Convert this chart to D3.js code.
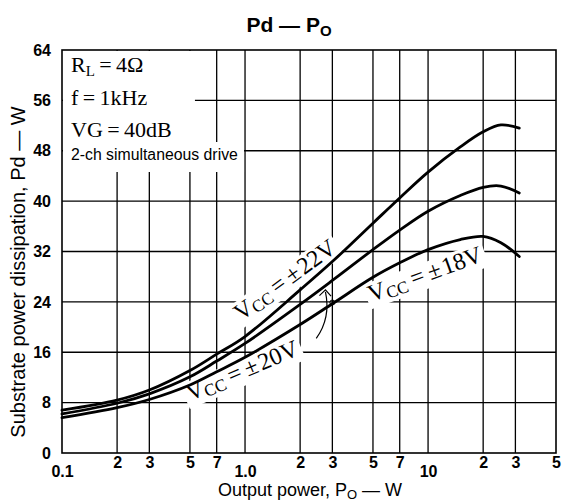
<!DOCTYPE html>
<html>
<head>
<meta charset="utf-8">
<script src="https://cdn.jsdelivr.net/npm/d3@7"></script>
<style>
body { margin: 0; background: #fff; }
svg { display: block; }
.tick text { font-family: "Liberation Sans", Arial, sans-serif; font-weight: bold; font-size: 16px; fill: #000; }
.serif { font-family: "Liberation Serif", "DejaVu Serif", serif; fill: #000; }
.sans { font-family: "Liberation Sans", Arial, sans-serif; fill: #000; }
</style>
</head>
<body>
<script>
//Global variables
const width = 563;
const height = 504;
const plotLeft = 62, plotRight = 556, plotTop = 50, plotBottom = 453;

//Data: output power (W) and dissipation (W) per supply voltage
const powerW = [0.1, 0.2, 0.3, 0.5, 0.7, 1, 2, 3, 5, 7, 10, 15, 20, 25, 31.5];
const pd22 = [6.8, 8.4, 10.0, 13.1, 15.7, 18.5, 25.9, 30.4, 36.5, 40.5, 44.6, 48.6, 51.0, 52.1, 51.6];
const pd20 = [6.2, 7.9, 9.4, 12.1, 14.6, 17.4, 23.6, 27.4, 32.3, 35.4, 38.4, 40.9, 42.2, 42.4, 41.3];
const pd18 = [5.6, 7.2, 8.5, 10.8, 12.9, 15.2, 20.4, 23.7, 27.9, 30.2, 32.3, 33.9, 34.4, 33.4, 31.2];

//Ticks and grid
const xGrid = [0.2, 0.3, 0.5, 0.7, 1, 2, 3, 5, 7, 10, 20, 30];
const xMinor = [0.2, 0.3, 0.5, 0.7, 2, 3, 5, 7, 20, 30, 50];
const xMajor = [0.1, 1, 10];
const xMajorText = ["0.1", "1.0", "10"];
const yTicks = [0, 8, 16, 24, 32, 40, 48, 56, 64];

//Scales
const xScale = d3.scaleLog()
    .domain([0.1, 50])
    .range([plotLeft, plotRight]);

const yScale = d3.scaleLinear()
    .domain([0, 64])
    .range([plotBottom, plotTop]);

//SVG element
const svg = d3.select("body")
    .append("svg")
    .attr("width", width)
    .attr("height", height);

//Grid
svg.append("g")
    .selectAll("line")
    .data(xGrid)
    .join("line")
    .attr("x1", d => xScale(d)).attr("x2", d => xScale(d))
    .attr("y1", plotTop).attr("y2", plotBottom)
    .attr("stroke", "#000").attr("stroke-width", 1.3);

svg.append("g")
    .selectAll("line")
    .data(yTicks.slice(1, -1))
    .join("line")
    .attr("x1", plotLeft).attr("x2", plotRight)
    .attr("y1", d => yScale(d)).attr("y2", d => yScale(d))
    .attr("stroke", "#000").attr("stroke-width", 1.3);

//Label layer (white boxes hide the grid behind text)
const labels = svg.append("g");

//Conditions, top left
labels.append("rect")
    .attr("x", plotLeft + 1).attr("y", plotTop + 1)
    .attr("width", xScale(0.5) + 4 - plotLeft).attr("height", 92)
    .attr("fill", "#fff");
labels.append("rect")
    .attr("x", plotLeft + 1).attr("y", 142)
    .attr("width", xScale(1) - 2 - plotLeft).attr("height", 30)
    .attr("fill", "#fff");

const rl = labels.append("text").attr("class", "serif")
    .attr("x", plotLeft + 9).attr("y", 72).attr("font-size", 22);
rl.append("tspan").text("R");
rl.append("tspan").attr("font-size", 15).attr("dy", 4).text("L");
rl.append("tspan").attr("dy", -4).text("\u2009=\u20094Ω");

labels.append("text").attr("class", "serif")
    .attr("x", plotLeft + 9).attr("y", 105).attr("font-size", 22)
    .text("f\u2009=\u20091kHz");

labels.append("text").attr("class", "serif")
    .attr("x", plotLeft + 9).attr("y", 137).attr("font-size", 22)
    .text("VG\u2009=\u200940dB");

labels.append("text")
    .attr("class", "sans")
    .attr("x", plotLeft + 9).attr("y", 160)
    .attr("font-size", 15.8)
    .text("2-ch simultaneous drive");

//Curve labels
function vccLabel(p, v, angle, volts) {
    const g = labels.append("g")
        .attr("transform", `translate(${xScale(p)},${yScale(v)}) rotate(${angle})`);
    const t = g.append("text").attr("class", "serif").attr("font-size", 24);
    t.append("tspan").text("V");
    t.append("tspan").attr("font-size", 17).attr("dy", 3).text("CC");
    t.append("tspan").attr("dy", -3).text("\u2009=\u2009±\u200a" + volts + "V");
    const b = t.node().getBBox();
    g.insert("rect", "text")
        .attr("x", b.x - 3).attr("y", b.y + 2)
        .attr("width", b.width + 6).attr("height", b.height - 2)
        .attr("fill", "#fff");
}
vccLabel(0.95, 20.9, -36, "22");
vccLabel(0.5, 8.2, -23, "20");
vccLabel(4.9, 24.0, -20, "18");

//Curves
const line = d3.line()
    .x(d => xScale(d[0]))
    .y(d => yScale(d[1]))
    .curve(d3.curveCatmullRom);

[pd22, pd20, pd18].forEach(series => {
    svg.append("path")
        .datum(powerW.map((p, i) => [p, series[i]]))
        .attr("d", line)
        .attr("fill", "none")
        .attr("stroke", "#000")
        .attr("stroke-width", 2.8)
        .attr("stroke-linecap", "round");
});

//Leader from the ±20V label to its curve
const leader = d3.path();
leader.moveTo(xScale(2.45), yScale(18.2));
leader.quadraticCurveTo(xScale(2.95), yScale(21.5), xScale(2.75), yScale(25.6));
svg.append("path")
    .attr("d", leader.toString())
    .attr("fill", "none").attr("stroke", "#000").attr("stroke-width", 1.2);
svg.append("path")
    .attr("d", `M${xScale(2.55)},${yScale(25.0)}L${xScale(2.75)},${yScale(25.9)}L${xScale(2.95)},${yScale(24.9)}`)
    .attr("fill", "none").attr("stroke", "#000").attr("stroke-width", 1.2);
svg.append("circle")
    .attr("cx", xScale(3)).attr("cy", yScale(23.9)).attr("r", 2.5)
    .attr("fill", "none").attr("stroke", "#000").attr("stroke-width", 1);

//Frame
svg.append("rect")
    .attr("x", plotLeft).attr("y", plotTop)
    .attr("width", plotRight - plotLeft).attr("height", plotBottom - plotTop)
    .attr("fill", "none").attr("stroke", "#000").attr("stroke-width", 1.6);

//Axes
const leftAxis = d3.axisLeft(yScale)
    .tickValues(yTicks)
    .tickSize(0)
    .tickPadding(11)
    .tickFormat(d3.format("d"));
svg.append("g")
    .attr("transform", `translate(${plotLeft},0)`)
    .call(leftAxis)
    .call(g => g.select(".domain").remove());

const bottomAxis = d3.axisBottom(xScale)
    .tickValues(xMinor)
    .tickSize(0)
    .tickPadding(4)
    .tickFormat(d => String(Math.round(d / Math.pow(10, Math.floor(Math.log10(d) + 1e-9)))));
svg.append("g")
    .attr("transform", `translate(0,${plotBottom})`)
    .call(bottomAxis)
    .call(g => g.select(".domain").remove());

const majorAxis = d3.axisBottom(xScale)
    .tickValues(xMajor)
    .tickSize(0)
    .tickPadding(13)
    .tickFormat((d, i) => xMajorText[i]);
svg.append("g")
    .attr("transform", `translate(0,${plotBottom})`)
    .call(majorAxis)
    .call(g => g.select(".domain").remove());

//Title
const title = svg.append("text")
    .attr("class", "sans")
    .attr("x", 289).attr("y", 32)
    .attr("text-anchor", "middle")
    .attr("font-weight", "bold")
    .attr("font-size", 21);
title.append("tspan").text("Pd — P");
title.append("tspan").attr("font-size", 15).attr("dy", 4).text("O");

//Axis labels
const xLabel = svg.append("text")
    .attr("class", "sans")
    .attr("x", 310).attr("y", 496)
    .attr("text-anchor", "middle")
    .attr("font-size", 18);
xLabel.append("tspan").text("Output power, P");
xLabel.append("tspan").attr("font-size", 13).attr("dy", 3).text("O");
xLabel.append("tspan").attr("dy", -3).text(" — W");

svg.append("text")
    .attr("class", "sans")
    .attr("transform", "translate(25,272) rotate(-90)")
    .attr("text-anchor", "middle")
    .attr("font-size", 20)
    .text("Substrate power dissipation, Pd — W");
</script>
</body>
</html>
